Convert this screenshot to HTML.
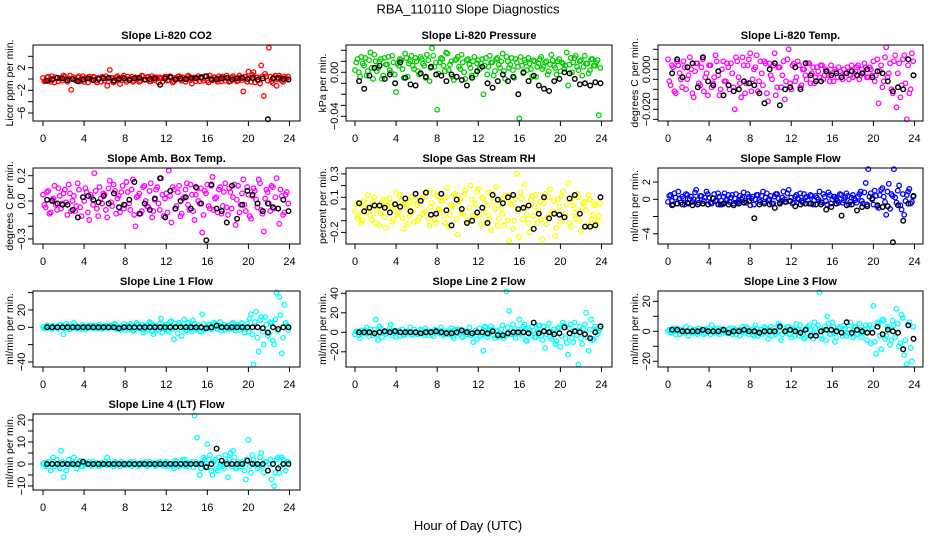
<!DOCTYPE html>
<html><head><meta charset="utf-8"><title>RBA_110110 Slope Diagnostics</title>
<style>
html,body{margin:0;padding:0;background:#fff;}
svg{display:block;font-family:"Liberation Sans",Arial,sans-serif;}
</style></head>
<body>
<svg id="fig" width="936" height="540" viewBox="0 0 936 540">
<text x="468" y="13.5" text-anchor="middle" font-size="13">RBA_110110  Slope Diagnostics</text>
<text x="468" y="530" text-anchor="middle" font-size="13">Hour of Day (UTC)</text>
</svg>
<script>
// ---------- data ----------
const xTicks = [0,4,8,12,16,20,24];

const co2Vals = [0.2,-0.3,0.4,-0.5,0.1,0.3,-0.4,0.2,0.6,-0.2,0.1,-1.9,0.3,-0.3,0.5,0.1,-0.5,0.2,0.4,-0.2,0.3,-0.6,0.1,0.4,
-0.3,-1.2,1.6,0.2,-0.4,0.5,-0.9,0.3,-0.2,0.4,0.1,-0.5,0.3,0.2,-0.3,0.5,-0.1,0.4,-0.4,0.2,0.3,-0.6,0.1,0.2,
0.4,-0.2,0.3,-0.4,0.1,0.5,-0.3,0.2,-0.1,0.4,-0.8,0.3,0.2,-0.4,0.1,0.5,-0.3,0.6,-0.2,0.3,-0.5,0.2,0.4,-0.3,
0.2,-0.4,0.5,0.1,-0.3,0.3,-2.2,0.4,1.3,-0.5,1.2,0.3,-0.2,2.4,-3.0,0.5,5.5,-0.4,0.3,-1.2,0.6,-0.3,0.4,0.1];
const co2Vals2 = [-0.4,0.3,-0.2,0.5,-0.6,0.2,0.1,-0.3,0.4,-0.5,0.6,0.0,-0.2,0.3,-0.4,0.5,0.2,-0.6,0.1,0.4,-0.3,0.2,-0.5,0.3,
0.5,-0.4,0.2,-0.6,0.3,0.1,-0.2,0.6,-0.5,0.0,0.4,-0.3,0.2,-0.5,0.6,-0.1,0.3,-0.4,0.5,-0.2,0.1,0.3,-0.5,0.4,
-0.3,0.5,-0.6,0.2,0.4,-0.1,0.3,-0.5,0.6,-0.2,0.1,-0.4,0.5,0.2,-0.3,0.4,-0.6,0.1,0.3,-0.2,0.5,-0.4,0.2,0.6,
-0.5,0.3,0.1,-0.4,0.6,-0.2,0.4,-0.5,0.2,0.7,-0.6,0.3,-0.8,0.5,0.9,-0.3,0.4,-0.7,0.6,-0.1,0.3,-0.5,0.2,0.4];
const co2Black = [-0.3,-0.1,0.2,0.1,-0.2,0.0,-0.4,-0.1,0.1,-0.2,0.0,0.1,0.2,-0.3,0.0,0.1,-0.2,0.1,0.2,-0.1,0.0,0.1,-1.0,0.1,0.3,-0.1,0.1,0.0,0.2,0.1,0.3,0.5,-0.1,0.0,0.1,0.2,-0.1,0.1,0.2,0.0,0.2,-0.1,0.1,-7.1,0.1,0.2,0.0,-0.1];
const co2Ticks = [-6,-4,-2,0,2,4];
const co2Labels = ["-6","","-2","","2",""];

const presVals = [0.002,0.012,-0.004,0.008,0.013,0.001,0.018,-0.006,0.010,0.004,0.012,-0.003,0.007,0.014,0.000,0.009,-0.018,0.006,0.011,-0.005,0.013,0.008,0.015,0.003,
0.010,-0.002,0.012,0.006,0.016,-0.008,0.022,0.005,-0.034,0.009,0.012,0.001,0.017,0.007,-0.004,0.011,0.014,0.003,0.009,-0.006,0.012,0.004,0.010,-0.002,
0.011,0.008,-0.020,0.013,0.005,0.009,-0.003,0.012,0.007,0.010,0.001,0.014,0.004,0.013,-0.005,0.009,-0.042,0.006,0.011,0.002,0.008,-0.004,0.010,0.005,
0.012,0.003,0.009,-0.002,0.007,0.011,0.004,0.010,0.001,0.008,0.006,-0.012,0.013,0.009,0.015,0.002,0.011,0.005,0.008,-0.001,0.012,0.006,0.009,-0.039];
const presVals2 = [0.009,0.000,0.014,0.006,-0.003,0.011,0.004,0.016,0.001,0.010,-0.006,0.013,0.007,0.002,0.015,-0.002,0.008,0.012,0.003,0.017,-0.004,0.010,0.006,0.013,
0.001,0.014,0.008,-0.005,0.011,0.004,0.015,0.009,-0.001,0.013,0.006,0.018,0.002,0.010,-0.007,0.012,0.005,0.016,0.000,0.011,0.007,-0.003,0.014,0.008,
0.003,0.012,0.006,-0.002,0.015,0.009,0.001,0.013,0.004,0.017,-0.006,0.010,0.007,0.002,0.012,0.005,0.014,-0.001,0.009,0.013,0.003,0.011,-0.004,0.008,
0.014,0.005,0.010,0.001,0.016,0.006,-0.002,0.012,0.009,0.003,0.018,0.007,0.000,0.013,0.005,0.010,-0.003,0.015,0.008,0.002,0.012,0.006,0.011,0.004];
const presBlack = [-0.008,-0.015,-0.003,0.004,0.006,-0.006,-0.002,-0.010,0.009,-0.005,-0.011,-0.012,-0.001,-0.004,0.005,-0.002,-0.003,-0.008,-0.002,-0.004,-0.007,-0.012,-0.005,0.001,0.005,-0.010,-0.014,-0.008,-0.002,-0.008,-0.004,-0.020,0.000,-0.008,-0.003,-0.012,-0.015,-0.017,-0.008,-0.006,0.000,-0.001,-0.006,-0.011,-0.010,-0.012,-0.009,-0.010];
const presTicks = [0.02,0.01,0,-0.01,-0.02,-0.03,-0.04];
const presLabels = ["","","0.00","","","","-0.04"];

const ltempVals = [0.005,-0.008,0.001,-0.012,0.002,-0.005,0.004,-0.010,-0.003,0.000,-0.014,0.003,-0.007,0.001,-0.011,-0.002,0.002,-0.009,-0.004,0.004,-0.013,0.000,-0.006,0.003,
-0.010,-0.002,-0.020,0.004,-0.007,0.006,-0.012,0.002,0.008,-0.005,0.001,-0.011,0.004,-0.008,0.003,-0.016,-0.003,0.002,-0.013,0.001,-0.009,0.004,-0.006,0.010,
-0.010,0.003,-0.004,0.002,-0.008,0.000,-0.005,0.003,-0.002,-0.007,0.001,-0.004,0.002,-0.003,-0.001,-0.006,-0.002,0.000,-0.004,-0.001,-0.005,-0.002,0.001,-0.003,
-0.004,-0.001,0.002,-0.003,-0.002,0.001,-0.004,0.000,0.004,-0.003,-0.017,0.002,-0.006,0.011,-0.002,-0.010,0.004,-0.019,0.003,-0.008,0.007,-0.025,-0.012,0.008];
const ltempVals2 = [-0.006,0.002,-0.011,0.004,-0.002,-0.009,0.001,-0.005,0.006,-0.012,-0.001,0.003,-0.008,0.005,-0.004,-0.013,0.002,-0.007,0.007,-0.003,-0.010,0.004,-0.006,0.001,
0.003,-0.009,0.006,-0.004,-0.014,0.002,-0.007,0.005,-0.011,0.000,0.007,-0.006,-0.002,0.004,-0.012,0.003,-0.005,0.008,-0.009,0.001,-0.003,-0.015,0.005,-0.007,
0.002,-0.006,0.004,-0.009,0.000,-0.003,0.003,-0.007,0.001,-0.004,-0.001,0.002,-0.005,0.000,-0.003,0.002,-0.006,-0.001,0.001,-0.004,0.000,-0.002,-0.005,0.002,
-0.002,0.001,-0.005,0.000,0.003,-0.004,0.001,-0.003,-0.006,0.005,-0.001,-0.009,0.006,-0.004,0.003,-0.012,0.007,-0.002,-0.014,0.005,-0.007,0.002,-0.010,0.004];
const ltempBlack = [-0.002,0.005,-0.004,0.001,0.003,-0.009,0.006,-0.006,-0.008,-0.001,-0.013,-0.008,-0.011,-0.010,-0.006,-0.007,-0.008,-0.012,-0.017,0.000,0.003,-0.018,-0.010,-0.009,0.001,-0.010,0.003,-0.003,-0.006,-0.006,-0.001,-0.003,-0.002,-0.004,-0.002,-0.001,-0.003,-0.002,0.000,-0.004,-0.001,-0.002,-0.006,-0.011,-0.009,-0.010,0.005,-0.003];
const ltempTicks = [0.010,0.005,0,-0.005,-0.010,-0.015,-0.020,-0.025];
const ltempLabels = ["","","0.000","","","","-0.020",""];

const ambVals = [0.05,-0.05,0.08,-0.09,0.02,-0.03,0.10,-0.06,0.06,-0.01,0.13,-0.08,0.04,-0.04,0.09,-0.12,0.00,0.07,-0.15,0.03,0.22,-0.06,0.11,-0.02,
0.05,-0.13,0.16,-0.04,0.08,0.02,-0.09,0.12,-0.03,0.07,-0.07,0.17,-0.20,0.04,-0.10,0.11,0.00,-0.05,0.14,-0.08,0.09,-0.02,0.18,-0.12,
0.06,0.24,-0.17,0.09,-0.04,0.12,-0.10,0.03,0.14,-0.07,0.05,-0.15,0.10,-0.02,-0.25,0.08,0.13,-0.06,0.19,0.02,-0.09,0.11,-0.04,0.14,
-0.11,0.07,0.03,-0.19,0.12,-0.03,0.17,-0.08,0.05,-0.14,0.10,0.01,0.17,-0.07,-0.24,0.09,-0.02,0.12,-0.06,0.18,-0.18,0.04,-0.09,0.07];
const ambVals2 = [-0.03,0.07,-0.10,0.01,0.12,-0.07,0.04,-0.02,0.09,-0.11,0.06,0.00,-0.08,0.14,-0.05,0.03,0.10,-0.09,0.05,-0.03,0.08,-0.12,0.02,0.06,
-0.07,0.10,-0.01,0.13,-0.10,0.04,0.07,-0.06,0.15,-0.02,0.09,-0.11,0.03,0.06,-0.08,0.12,-0.04,0.08,-0.13,0.01,0.11,-0.07,0.05,0.02,
-0.09,0.04,0.11,-0.06,0.07,-0.12,0.02,0.09,-0.03,0.13,-0.08,0.05,0.00,0.10,-0.11,0.06,-0.04,0.12,-0.07,0.03,0.09,-0.10,0.07,-0.05,
0.10,-0.06,0.13,0.01,-0.09,0.06,-0.03,0.11,-0.12,0.04,0.08,-0.05,0.14,-0.10,0.02,0.07,-0.08,0.11,0.03,-0.06,0.09,-0.11,0.05,-0.02];
const ambBlack = [0.01,0.00,-0.02,-0.03,-0.03,-0.07,-0.13,0.03,0.04,0.01,-0.01,0.04,-0.02,0.06,-0.05,-0.03,0.01,0.15,-0.10,-0.02,-0.07,0.02,0.18,-0.13,0.08,-0.06,0.00,0.03,-0.06,0.11,-0.02,-0.31,0.13,-0.06,-0.08,-0.17,0.12,-0.14,-0.03,0.08,0.05,-0.02,-0.08,-0.02,-0.05,-0.06,0.01,-0.08];
const ambTicks = [0.2,0.1,0,-0.1,-0.2,-0.3];
const ambLabels = ["0.2","","0.0","","","-0.3"];

const rhVals = [-0.02,-0.08,0.04,-0.10,0.01,0.12,-0.05,0.06,-0.12,0.02,-0.04,0.08,-0.16,0.00,0.05,-0.09,0.14,-0.03,0.07,-0.17,0.02,-0.06,0.10,-0.11,
0.03,-0.07,0.09,-0.02,0.15,-0.14,0.05,-0.09,0.11,-0.01,0.07,-0.12,0.18,-0.05,0.02,0.13,-0.22,0.08,-0.04,0.16,-0.10,0.20,-0.06,0.04,
0.17,-0.13,0.09,-0.03,0.14,-0.18,0.06,0.19,-0.08,0.01,-0.14,0.12,-0.27,0.04,-0.10,0.30,-0.24,0.09,0.21,-0.05,-0.20,0.11,0.02,-0.12,
0.06,-0.26,0.13,-0.07,0.17,-0.02,-0.23,0.08,-0.11,0.15,-0.04,0.22,-0.15,0.03,-0.08,0.10,-0.19,0.05,-0.01,0.12,-0.09,0.04,-0.13,-0.06];
const rhVals2 = [0.04,-0.06,-0.12,0.07,-0.03,0.02,-0.09,0.10,-0.01,-0.14,0.05,-0.07,0.03,0.09,-0.11,0.01,-0.05,0.12,-0.08,0.04,-0.13,0.06,-0.02,0.08,
-0.10,0.05,-0.04,0.11,-0.08,0.02,0.14,-0.12,0.00,0.07,-0.06,0.10,-0.15,0.03,0.12,-0.09,0.06,-0.03,0.13,-0.11,0.01,0.08,-0.07,0.15,
-0.05,0.10,-0.12,0.03,-0.08,0.13,0.00,-0.14,0.07,-0.04,0.11,-0.10,0.05,-0.17,0.09,-0.02,0.14,-0.09,0.02,-0.12,0.08,-0.06,0.12,-0.01,
-0.09,0.05,-0.13,0.10,-0.04,0.07,-0.16,0.02,0.11,-0.07,0.04,-0.12,0.09,-0.03,0.13,-0.10,0.01,0.06,-0.14,0.08,-0.05,0.03,-0.10,0.05];
const rhBlack = [0.05,-0.02,0.01,0.03,0.03,0.01,-0.03,0.04,0.02,0.09,-0.02,0.13,0.07,0.14,-0.05,-0.04,0.13,-0.01,-0.14,0.08,0.00,-0.12,-0.10,-0.03,0.01,-0.12,0.12,0.08,0.05,0.10,0.12,0.00,0.01,0.03,-0.17,-0.04,0.10,-0.08,-0.04,-0.05,-0.07,0.09,0.12,-0.04,-0.15,-0.15,-0.14,0.10];
const rhTicks = [0.3,0.2,0.1,0,-0.1,-0.2];
const rhLabels = ["0.3","","0.1","","","-0.2"];

const sflowVals = [-0.3,0.5,-0.6,0.2,0.9,-0.4,0.1,0.6,-0.5,0.3,0.0,1.1,-0.4,0.4,-0.2,0.9,0.2,-0.5,0.6,-0.1,0.3,-0.6,0.7,0.0,
-0.3,0.5,0.1,-0.4,0.4,0.2,-0.2,0.6,-0.7,0.3,0.0,0.5,-0.3,0.9,0.2,-0.1,0.4,-0.5,0.6,0.1,-0.2,0.9,-0.3,1.1,
0.2,-0.4,0.5,0.0,-0.2,0.6,0.3,-0.5,0.4,-0.1,0.2,0.9,-0.4,0.3,-0.6,0.5,0.0,0.3,-0.2,0.6,-0.4,0.2,0.4,-0.3,
0.5,-0.1,0.3,0.9,-0.5,1.9,3.5,0.7,-0.6,0.4,-1.0,1.1,0.3,-1.8,1.8,0.6,3.5,-0.4,1.6,-1.2,-1.8,0.5,1.2,-0.3];
const sflowVals2 = [0.4,-0.2,0.7,-0.5,0.1,0.3,-0.6,0.5,0.0,-0.3,0.8,-0.1,0.4,-0.5,0.2,0.6,-0.4,0.1,-0.2,0.7,-0.6,0.3,-0.1,0.5,
0.2,-0.5,0.6,-0.2,0.0,0.8,-0.4,0.3,0.1,-0.6,0.5,-0.1,0.4,-0.3,0.7,0.0,-0.5,0.3,0.6,-0.4,0.2,0.0,0.7,-0.2,
-0.5,0.3,0.1,0.7,-0.4,0.2,-0.1,0.5,-0.6,0.4,0.0,-0.3,0.6,-0.2,0.8,-0.5,0.3,0.1,-0.4,0.5,-0.1,0.7,-0.6,0.2,
0.1,-0.4,0.6,-0.2,0.8,-0.6,0.3,0.0,1.0,-0.8,0.5,1.3,-0.3,0.9,-1.1,0.4,0.2,1.0,-0.7,0.6,-0.2,0.9,-0.5,0.3];
const sflowBlack = [-0.7,-0.5,-0.6,-0.4,-0.7,-0.6,-0.5,-0.6,0.1,-0.6,-0.5,-0.6,-0.7,-0.5,-0.4,-0.2,-2.2,-0.6,-0.5,-0.6,-1.0,-0.5,-0.3,-0.2,-0.8,-0.6,-0.5,-0.5,-0.6,-0.6,-1.2,-0.9,-0.5,-1.9,-0.7,-0.6,-1.3,-0.9,-0.8,0.1,-0.7,-0.9,-0.8,-5.0,-0.7,-2.5,-0.5,0.4];
const sflowTicks = [2,0,-2,-4];
const sflowLabels = ["2","0","","-4"];

const l1Vals = [0.5,-1,2,-0.5,1.5,0,-1.5,2.5,-8,4,-2,1,5,-1,0.5,-2,1,-0.5,2,0,-1,1.5,3,-2,
1,-0.5,2,0,4,-2,1,-1,-3,2,4,-4,-1.5,3,0.5,-6,2,-3,5,-8,1,-4,10,-2,
3,-5,7,-14,1,5,-10,9,-3,2,-5,4,-1,-4,15,-2,0.5,3,-1,4,-2,6,1,-3,
2,-1,5,-4,3,0,1,-2,-5,15,-43,18,-28,12,-20,3,-7,5,-20,40,35,-30,26,2];
const l1Vals2 = [-1,2,0.5,-2,1,-0.5,3,0,-1,1.5,-2,0.5,2,-1,0,3,-2.5,1,-0.5,2,0,-1.5,1,-0.5,
2,-1,0,3,-2,1,-3,4,0,-2,2,-4,5,-1,3,-3,1,6,-5,2,-2,4,-6,3,
-3,6,-2,4,-7,3,0,-4,5,-2,8,-3,2,-5,4,0,3,-2,5,-1,2,-4,3,0,
-2,4,-1,3,-3,5,-6,4,10,-8,6,-12,8,-5,12,-10,6,-15,9,-4,14,-12,5,-3];
const l1Black = [0,0,0,0,0,0,0,0,0,0,0,0,0,0,-1,0,0,0,0,0,0,0,0,0,0,0,0,0,0,0,0,-1,0,2,0,0,0,0,0,0,0,0,-1,-6,0,-2,0,0];
const l1Ticks = [40,20,0,-20,-40];
const l1Labels = ["","20","0","","-40"];

const l2Vals = [-2,1,-6,0,2,-1,3,-3,13,-8,4,0,-2,1,8,-1,-5,2,0,-3,1,0,-2,3,
0,-1,2,-3,1,0,-2,3,0,-1,2,-2,0,1,-4,3,-1,2,-5,0,1,-3,-10,2,
0,-4,-19,5,-2,6,-3,1,-5,3,-6,42,22,-2,4,-1,13,-3,8,-9,2,6,-5,1,
7,-8,-16,3,-5,0,-12,4,-15,10,-6,-23,8,-10,2,-33,-6,4,20,-19,13,-7,3,1];
const l2Vals2 = [1,-3,2,-1,5,-4,0,3,-2,6,-5,1,-1,4,-3,2,0,-4,3,-2,1,5,-3,0,
-2,3,-1,4,-3,1,-4,2,0,5,-3,1,-2,4,-6,2,3,-4,1,-2,5,-3,0,-7,
4,-2,6,-5,1,3,-6,2,-3,7,-4,5,-2,8,-6,3,-1,6,-8,4,-3,2,-5,7,
-4,6,-2,9,-7,3,-9,5,-4,7,-11,4,-6,10,-3,6,-12,8,-5,3,-8,6,-2,4];
const l2Black = [0,0,0,-1,0,1,0,1,0,0,0,0,-1,0,0,1,0,-1,-1,0,2,0,-1,0,0,-1,1,-3,-3,-1,0,0,0,-1,10,-1,1,0,-2,-1,5,-1,1,0,-2,-6,0,6];
const l2Ticks = [40,20,0,-20];
const l2Labels = ["40","20","0","-20"];

const l3Vals = [0,-1,2,-2,0,1,-1,3,-3,0,1,-1,2,0,-2,1,0,4,-1,2,-2,1,0,-1,
2,-2,1,0,-3,3,-1,2,0,-2,4,-3,1,-1,2,-5,3,0,-2,5,-6,2,-1,3,
-4,1,5,-3,0,-5,2,4,-2,6,-1,26,-5,3,10,-2,6,-7,0,3,-3,2,-1,6,
-4,3,-2,1,-1,4,2,-8,17,-15,5,-12,7,-3,2,-6,4,15,-10,11,-16,-22,6,-20];
const l3Vals2 = [1,-1,0,2,-2,1,-1,0,2,-1,1,-2,0,1,-1,2,-2,0,1,-1,2,-1,0,1,
-1,2,-2,1,0,-1,3,-2,1,-3,2,0,-2,3,-1,1,-3,2,-1,4,-2,0,3,-2,
2,-3,1,4,-2,-4,3,1,-5,2,4,-3,1,-6,5,-2,3,-4,2,-1,4,-3,1,-2,
3,-2,5,-4,1,-6,4,2,-7,6,-3,8,-5,3,-9,7,-4,5,-8,9,-6,4,-11,3];
const l3Black = [1,1,0,0,0,0,1,0,0,0,1,-1,0,0,1,0,0,-1,0,0,0,3,0,1,0,-1,1,-3,-3,0,1,1,0,-1,6,-1,1,0,-1,-1,3,-2,1,0,-1,-12,4,-5];
const l3Ticks = [20,10,0,-10,-20];
const l3Labels = ["20","","0","","-20"];

const l4Vals = [0,-1,1,-3,3,0,-1,6,-6,-3,2,0,3,-2,1,-1,0,0,1,-1,0,0.5,-1,0,
1,3,-0.5,0,1,0,-1,0.5,0,-0.5,1,0,0,-1,0.5,0,1,-0.5,0,0.5,-1,0,0.5,-1,
1,-1,0,-2,1,-1,0,2,-1,0,1,22,12,-5,1,2,9,4,-5,2,-3,0,-1,4,
-6,5,6,-2,1,-1,0,-7,11,-4,2,0,-1,5,-4,1,0,-7,-10,2,-4,3,0,1];
const l4Vals2 = [0.5,-0.5,1,0,-1,2,-2,1,0.5,-1,0,1,-0.5,0,1.5,-1,0.5,0,-0.5,1,0,-1,0.5,0,
-0.5,1,0,-1,0.5,0,1,-0.5,0,0.5,-1,1,0,-0.5,0.5,0,-1,1,0,-0.5,0.5,1,0,-1,
0.5,0,-1,1.5,-0.5,0,2,-1,0.5,0,-1.5,1,0,-2,3,-1,2,-3,1,-2,3,0,-2,1,
2,-1,3,-2,0,1,-3,2,-1,4,0,-2,3,-1,1,-3,2,0,-4,3,-1,2,-3,1];
const l4Black = [0,0,0,0,0,0,0,1,0,0,0,0,0,0,0,0,0,0,0,0,0,0,0,0,0,0,0,0,0,0,0,-1.5,0,7,1.5,0,0,0,0,1.5,0,0,0,-3,0,-2,0,0];
const l4Ticks = [20,15,10,5,0,-5,-10];
const l4Labels = ["20","","10","","0","","-10"];

// ---------- layout ----------
const NS = "http://www.w3.org/2000/svg";
const svg = document.getElementById('fig');
const colLeft = [33, 346, 658], colRight = [300, 612, 923], colX0 = [43, 355, 668];
const rowTop = [45, 168, 291, 414], boxH = 76;
const colVStep = 0.25, col2Offset = 0.125, blackStart = 0.4, blackStep = 0.5;

const panels = [
 {name:'co2', title:'Slope Li-820 CO2', ylab:'Licor ppm per min.', col:'#ff0000', vals:co2Vals, vals2:co2Vals2, blk:co2Black, ticks:co2Ticks, labels:co2Labels, r:0,c:0, y0:79, k:5.67},
 {name:'pressure', title:'Slope Li-820 Pressure', ylab:'kPa per min.', col:'#00cc00', vals:presVals, vals2:presVals2, blk:presBlack, ticks:presTicks, labels:presLabels, r:0,c:1, y0:72.3, k:1100},
 {name:'li820-temp', title:'Slope Li-820 Temp.', ylab:'degrees C per min.', col:'#ff00ff', vals:ltempVals, vals2:ltempVals2, blk:ltempBlack, ticks:ltempTicks, labels:ltempLabels, r:0,c:2, y0:69.3, k:2000},
 {name:'amb-box-temp', title:'Slope Amb. Box Temp.', ylab:'degrees C per min.', col:'#ff00ff', vals:ambVals, vals2:ambVals2, blk:ambBlack, ticks:ambTicks, labels:ambLabels, r:1,c:0, y0:201, k:126.5},
 {name:'gas-stream-rh', title:'Slope Gas Stream RH', ylab:'percent per min.', col:'#ffff00', vals:rhVals, vals2:rhVals2, blk:rhBlack, ticks:rhTicks, labels:rhLabels, r:1,c:1, y0:209, k:117},
 {name:'sample-flow', title:'Slope Sample Flow', ylab:'ml/min per min.', col:'#0000ff', vals:sflowVals, vals2:sflowVals2, blk:sflowBlack, ticks:sflowTicks, labels:sflowLabels, r:1,c:2, y0:199.3, k:8.6},
 {name:'line1-flow', title:'Slope Line 1 Flow', ylab:'ml/min per min.', col:'#00ffff', vals:l1Vals, vals2:l1Vals2, blk:l1Black, ticks:l1Ticks, labels:l1Labels, r:2,c:0, y0:327.3, k:0.867},
 {name:'line2-flow', title:'Slope Line 2 Flow', ylab:'ml/min per min.', col:'#00ffff', vals:l2Vals, vals2:l2Vals2, blk:l2Black, ticks:l2Ticks, labels:l2Labels, r:2,c:1, y0:332.3, k:0.975},
 {name:'line3-flow', title:'Slope Line 3 Flow', ylab:'ml/min per min.', col:'#00ffff', vals:l3Vals, vals2:l3Vals2, blk:l3Black, ticks:l3Ticks, labels:l3Labels, r:2,c:2, y0:331.3, k:1.5},
 {name:'line4-flow', title:'Slope Line 4 (LT) Flow', ylab:'ml/min per min.', col:'#00ffff', vals:l4Vals, vals2:l4Vals2, blk:l4Black, ticks:l4Ticks, labels:l4Labels, r:3,c:0, y0:464, k:2.2}
];

function mk(tag, attrs, parent){
  const e = document.createElementNS(NS, tag);
  for (const a in attrs) e.setAttribute(a, attrs[a]);
  parent.appendChild(e);
  return e;
}

panels.forEach(p => {
  const L = colLeft[p.c], R = colRight[p.c], T = rowTop[p.r], B = T + boxH;
  const xs = h => colX0[p.c] + h * 10.27;
  const ys = v => p.y0 - v * p.k;

  const g = mk('g', {}, svg);
  
  

  const t = mk('text', {x:(L+R)/2, y:T-6, 'text-anchor':'middle', 'font-size':'11', 'font-weight':'bold'}, g);
  t.textContent = p.title;
  
  

  const yl = mk('text', {x:0, y:0, 'text-anchor':'middle', 'font-size':'10.5', transform:`translate(${L-20},${T+boxH/2}) rotate(-90)`}, g);
  yl.textContent = p.ylab;
  
  

  // colored points
  const cg = mk('g', {fill:'none', stroke:p.col, 'stroke-width':'1.3'}, g);
  
  
  p.vals.forEach((v, i) => {
    const c = mk('circle', {cx:xs(i*colVStep).toFixed(1), cy:ys(v).toFixed(1), r:'2.3'}, cg);
    
    
  });
  p.vals2.forEach((v, i) => {
    const c = mk('circle', {cx:xs(i*colVStep + col2Offset).toFixed(1), cy:ys(v).toFixed(1), r:'2.3'}, cg);
    
    
  });
  // black points
  const bg = mk('g', {fill:'none', stroke:'#000', 'stroke-width':'1.4'}, g);
  
  
  p.blk.forEach((v, i) => {
    const c = mk('circle', {cx:xs(blackStart + i*blackStep).toFixed(1), cy:ys(v).toFixed(1), r:'2.3'}, bg);
    
    
  });

  // box
  const box = mk('rect', {x:L, y:T, width:R-L, height:boxH, fill:'none', stroke:'#000', 'stroke-width':'1'}, g);
  
  

  // x axis
  const xa = mk('g', {'font-size':'11'}, g);
  
  
  mk('line', {x1:xs(xTicks[0]), x2:xs(xTicks[xTicks.length-1]), y1:B, y2:B, stroke:'#000'}, xa);
  xTicks.forEach(tv => {
    mk('line', {x1:xs(tv), x2:xs(tv), y1:B, y2:B+5, stroke:'#000'}, xa);
    const lt = mk('text', {x:xs(tv), y:B+21, 'text-anchor':'middle'}, xa);
    lt.textContent = tv;
    
    
  });

  // y axis
  const ya = mk('g', {'font-size':'11'}, g);
  
  
  p.ticks.forEach((tv, i) => {
    mk('line', {x1:L-5, x2:L, y1:ys(tv), y2:ys(tv), stroke:'#000'}, ya);
    if (p.labels[i]) {
      const lt = mk('text', {x:0, y:0, 'text-anchor':'middle', transform:`translate(${L-8},${ys(tv)}) rotate(-90)`}, ya);
      lt.textContent = p.labels[i].replace('-', '\u2212');
      
      
    }
  });
});
</script>
</body></html>
